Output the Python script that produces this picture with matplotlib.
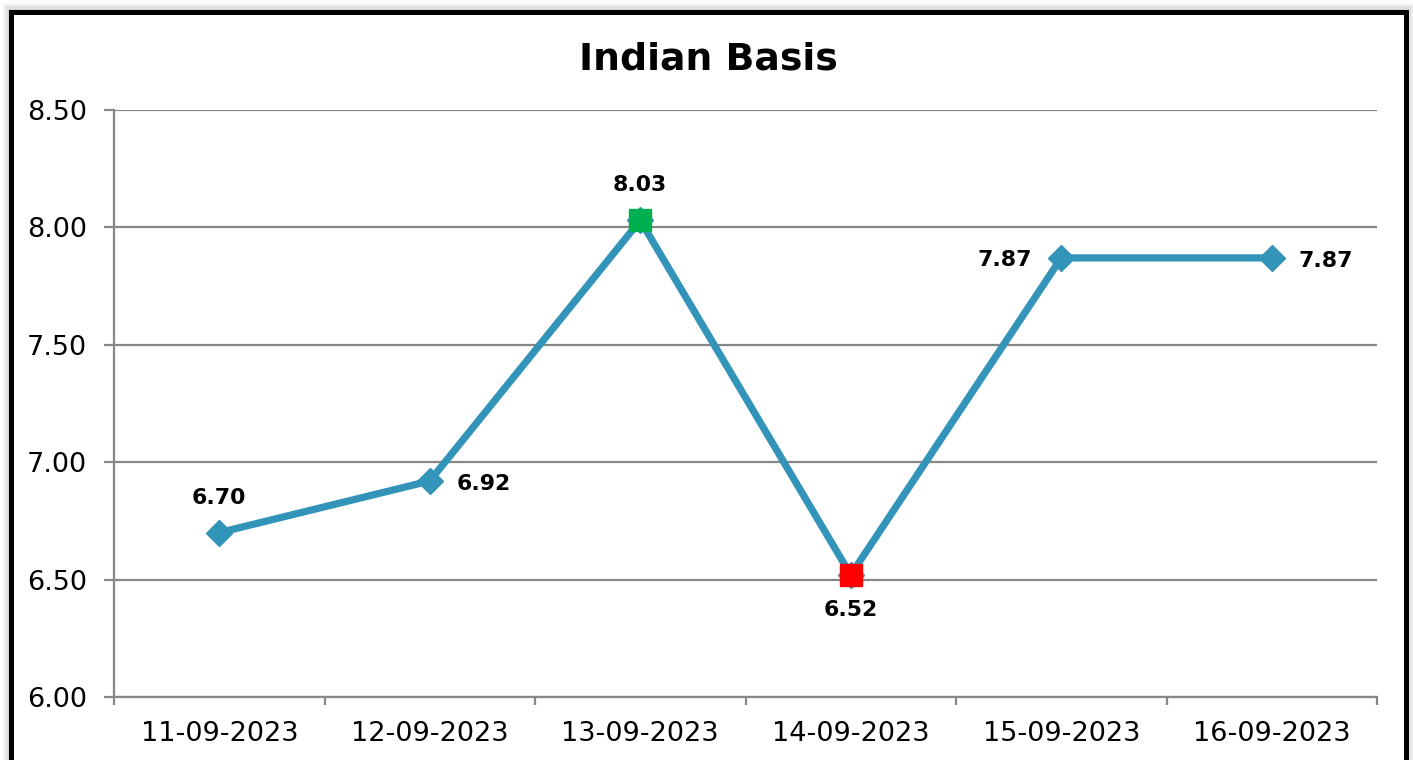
import matplotlib
matplotlib.use('Agg')
import matplotlib.pyplot as plt
from matplotlib.patches import Rectangle
import numpy as np

# ---- data ----
dates = ["11-09-2023", "12-09-2023", "13-09-2023", "14-09-2023", "15-09-2023", "16-09-2023"]
values = [6.70, 6.92, 8.03, 6.52, 7.87, 7.87]
y_ticks = [6.00, 6.50, 7.00, 7.50, 8.00, 8.50]
label_pos = ["above", "right", "above", "below", "left", "right"]
title = "Indian Basis"

W, H = 1413, 760
fig = plt.figure(figsize=(W / 100, H / 100), dpi=100)
fig.patch.set_facecolor('white')

def fx(px):
    return px / W

def fy(py):
    return 1 - py / H

# shadow + frame
for pad, alpha in [(9, 0.06), (7, 0.08), (5, 0.10), (3, 0.14)]:
    fig.patches.append(Rectangle((fx(10.5 - pad), fy(820)), fx(1395 + 2 * pad),
                                 fy(11.5 - pad) - fy(820), transform=fig.transFigure,
                                 facecolor='#808080', edgecolor='none', alpha=alpha, zorder=-20))
fig.patches.append(Rectangle((fx(10.5), fy(820)), fx(1395), fy(11.5) - fy(820),
                             transform=fig.transFigure, facecolor='white',
                             edgecolor='black', linewidth=3.6, zorder=-10))

ax = fig.add_axes([fx(114), fy(697), fx(1377) - fx(114), fy(110) - fy(697)])
ax.set_facecolor('none')
x = np.arange(len(values))
ax.set_xlim(-0.5, len(values) - 0.5)
ax.set_ylim(y_ticks[0], y_ticks[-1])

grid_c = '#878787'
ax.set_yticks(y_ticks)
ax.set_yticklabels([f"{t:.2f}" for t in y_ticks], fontsize=19.5)
ax.yaxis.grid(True, color=grid_c, linewidth=1.6)
ax.set_axisbelow(True)
for s in ['top', 'right']:
    ax.spines[s].set_visible(False)
for s in ['left', 'bottom']:
    ax.spines[s].set_color(grid_c)
    ax.spines[s].set_linewidth(1.6)
ax.tick_params(axis='y', length=7.2, width=1.6, color=grid_c, pad=12)

ax.set_xticks(np.arange(-0.5, len(values), 1))
ax.set_xticklabels([])
ax.set_xticks(x, minor=True)
ax.set_xticklabels(dates, minor=True, fontsize=19.5)
ax.tick_params(axis='x', which='major', length=6, width=1.6, color=grid_c)
ax.tick_params(axis='x', which='minor', length=0, pad=17)

line_c = '#3394BA'
ax.plot(x, values, color=line_c, linewidth=5.2, marker='D', markersize=13.5,
        markeredgecolor=line_c, zorder=3, clip_on=False)
imax = int(np.argmax(values))
imin = int(np.argmin(values))
ax.plot([x[imax]], [values[imax]], marker='s', markersize=16.5, color='#00B050',
        linestyle='none', zorder=4, clip_on=False)
ax.plot([x[imin]], [values[imin]], marker='s', markersize=16.5, color='#FF0000',
        linestyle='none', zorder=4, clip_on=False)

offsets = {"above": ((0, 29), 'center'), "below": ((0, -41.5), 'center'),
           "right": ((27, -9), 'left'), "left": ((-29, -8.5), 'right')}
for xi, v, pos in zip(x, values, label_pos):
    off, ha = offsets[pos]
    ax.annotate(f"{v:.2f}", (xi, v), xytext=off, textcoords='offset pixels',
                ha=ha, va='baseline', fontsize=15.8, fontweight='bold', zorder=5)

fig.text(fx(708), fy(69), title, ha='center', va='baseline', fontsize=27.3,
         fontweight='bold')

fig.savefig('out.png', dpi=100)
